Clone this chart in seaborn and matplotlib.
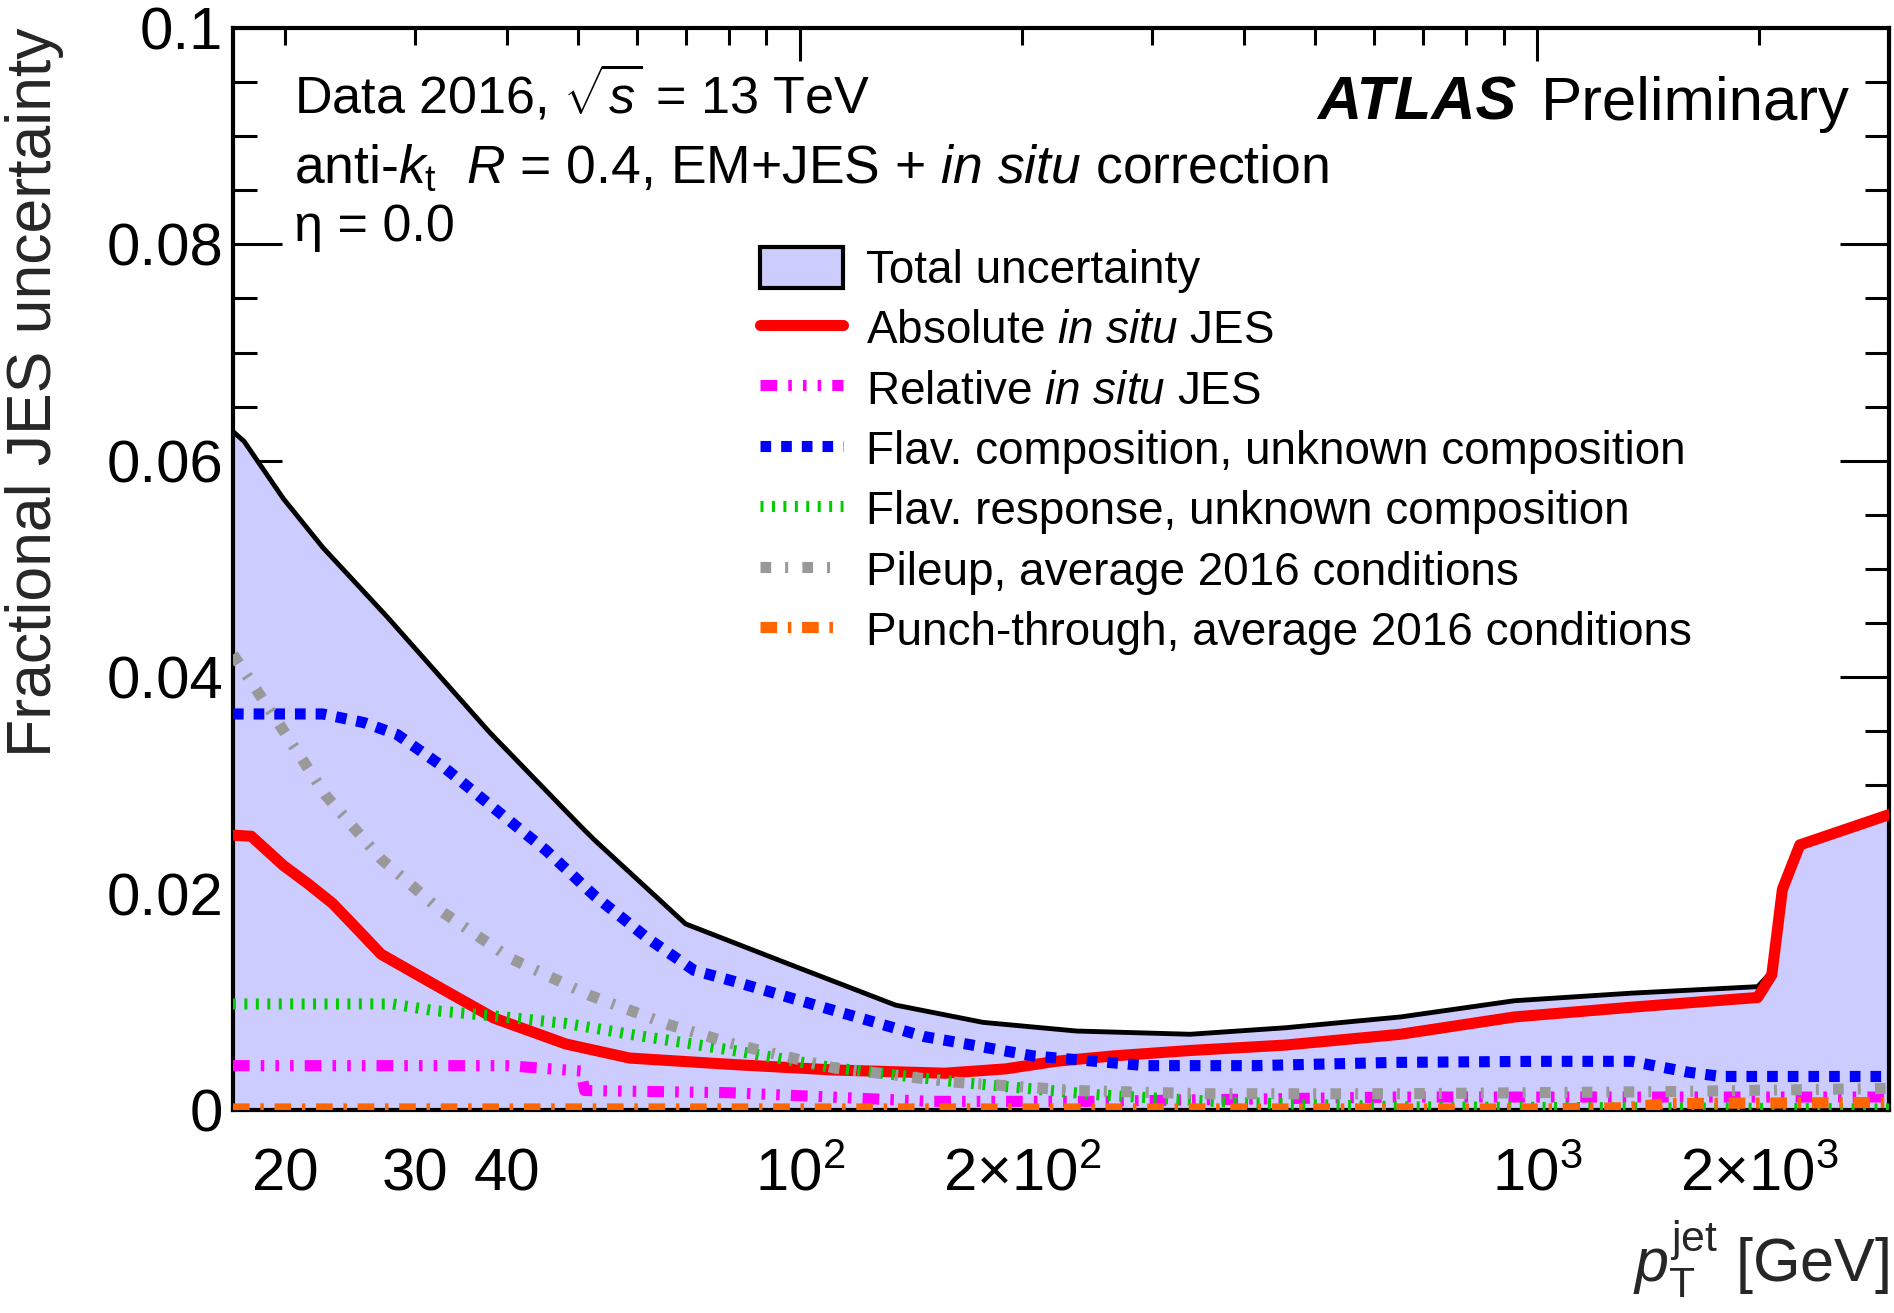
import matplotlib
matplotlib.use("Agg")
import matplotlib.pyplot as plt
from matplotlib.patches import Patch
import seaborn as sns

# values (eta = 0.0), pt in GeV
total_pt = [17, 17.6, 19.9, 22.5, 27.5, 37.9, 50.4, 52.5, 69.9, 95.6, 134.6, 177, 237, 338,
            455, 652, 931, 1342, 1990, 2080, 2150, 2270, 3000]
total_val = [0.0627, 0.0618, 0.0565, 0.0520, 0.0456, 0.0349, 0.0262, 0.0250, 0.0172, 0.0136,
             0.0097, 0.0081, 0.0073, 0.0070, 0.0076, 0.0086, 0.0101, 0.0108, 0.0114, 0.0128,
             0.0205, 0.0246, 0.0274]

abs_pt = [17, 18, 19.9, 21.5, 23.2, 25.0, 27.0, 31.7, 38.4, 48.1, 58.7, 81.2, 111, 157, 190,
          222, 266, 338, 455, 652, 931, 1342, 1990, 2080, 2150, 2270, 3000]
abs_val = [0.0254, 0.0253, 0.0226, 0.0209, 0.0191, 0.0168, 0.0144, 0.0117, 0.0085, 0.0061,
           0.0048, 0.0042, 0.0037, 0.0034, 0.0038, 0.0045, 0.0050, 0.0055, 0.0060, 0.0070,
           0.0086, 0.0095, 0.0104, 0.0125, 0.0204, 0.0245, 0.0273]

rel_pt = [17, 40, 48.1, 50.4, 51.0, 80, 110, 150, 250, 400, 640, 1500, 3000]
rel_val = [0.0041, 0.0041, 0.0037, 0.0036, 0.0018, 0.0016, 0.0012, 0.0008, 0.0008, 0.0010,
           0.0012, 0.0012, 0.0012]

flavcomp_pt = [17, 22.5, 25.6, 28.4, 33.1, 38.4, 45.2, 52.6, 62.0, 71.8, 81.2, 104.8, 147,
               207, 294, 414, 640, 1000, 1342, 1600, 1775, 3000]
flavcomp_val = [0.0366, 0.0366, 0.0358, 0.0347, 0.0315, 0.0279, 0.0240, 0.0198, 0.0159,
                0.0129, 0.0119, 0.0097, 0.0068, 0.0050, 0.0041, 0.0041, 0.0044, 0.0045,
                0.0045, 0.0035, 0.0031, 0.0031]

flavresp_pt = [17, 28, 31.7, 38.4, 48.1, 58.7, 81.2, 111, 168, 254, 386, 640, 3000]
flavresp_val = [0.0098, 0.0098, 0.0092, 0.0087, 0.0080, 0.0070, 0.0055, 0.0039, 0.0025,
                0.0014, 0.0007, 0.0003, 0.0001]

pileup_pt = [17, 19.8, 22.7, 27.0, 32.7, 40.5, 51.8, 66.2, 81.2, 111, 160, 237, 354, 640,
             1500, 3000]
pileup_val = [0.0421, 0.0353, 0.0291, 0.0232, 0.0183, 0.0140, 0.0106, 0.0079, 0.0061,
              0.0039, 0.0026, 0.0018, 0.0015, 0.0015, 0.0017, 0.0020]

punch_pt = [17, 1000, 1300, 1500, 3000]
punch_val = [0.0001, 0.0001, 0.0002, 0.0006, 0.0007]

labels = [
    "Total uncertainty",
    r"Absolute $\mathit{in\ situ}$ JES",
    r"Relative $\mathit{in\ situ}$ JES",
    "Flav. composition, unknown composition",
    "Flav. response, unknown composition",
    "Pileup, average 2016 conditions",
    "Punch-through, average 2016 conditions",
]

sns.set_theme(style="ticks")
plt.rcParams['font.family'] = ['Liberation Sans', 'DejaVu Sans']
plt.rcParams['mathtext.fontset'] = 'custom'
plt.rcParams['mathtext.rm'] = 'Liberation Sans'
plt.rcParams['mathtext.it'] = 'Liberation Sans:italic'
plt.rcParams['mathtext.bf'] = 'Liberation Sans:bold'
plt.rcParams['text.color'] = 'black'
plt.rcParams['axes.edgecolor'] = 'black'
plt.rcParams['xtick.color'] = 'black'
plt.rcParams['ytick.color'] = 'black'

fig = plt.figure(figsize=(18.94, 13.13), dpi=100)
ax = fig.add_axes([0.1230, 0.1546, 0.8744, 0.8241])
ax.set_xscale('log')

# total band
ax.fill_between(total_pt, 0, total_val, color='#ccccff', lw=0, zorder=1)
sns.lineplot(x=total_pt, y=total_val, ax=ax, color='black', lw=3.5,
             estimator=None, sort=False, legend=False, zorder=2)

# components, drawn in legend order
components = [
    (abs_pt, abs_val, '#ff0000', '-'),
    (rel_pt, rel_val, '#ff00ff', (0, (1.5, 1.0, 0.32, 1.0, 0.32, 1.0, 0.32, 1.0))),
    (flavcomp_pt, flavcomp_val, '#0000ff', (0, (0.96, 0.9))),
    (flavresp_pt, flavresp_val, '#00cc00', (0, (0.27, 0.76))),
    (pileup_pt, pileup_val, '#999999', (0, (0.96, 1.26, 0.27, 1.28))),
    (punch_pt, punch_val, '#ff6600', (0, (1.5, 0.96, 0.32, 0.96))),
]
handles = [Patch(facecolor='#ccccff', edgecolor='black', lw=3)]
for i, (px, py, col, ls) in enumerate(components):
    sns.lineplot(x=px, y=py, ax=ax, color=col, lw=8, linestyle=ls,
                 estimator=None, sort=False, legend=False, zorder=3 + i)
    handles.append(ax.lines[-1])

ax.set_xlim(17, 3000)
ax.set_ylim(0, 0.1)

ax.set_xticks([100, 1000], labels=[r'$10^{2}$', r'$10^{3}$'])
minor_x = [20, 30, 40, 50, 60, 70, 80, 90, 200, 300, 400, 500, 600, 700, 800, 900, 2000, 3000]
minor_lab = ['20', '30', '40', '', '', '', '', '', r'$2{\times}10^{2}$', '', '', '', '', '', '',
             '', r'$2{\times}10^{3}$', '']
ax.set_xticks(minor_x, labels=minor_lab, minor=True)
ax.set_yticks([0, 0.02, 0.04, 0.06, 0.08, 0.1], labels=['0', '0.02', '0.04', '0.06', '0.08', '0.1'])
ax.set_yticks([0.005 * k for k in range(21)], minor=True)

ax.tick_params(which='both', direction='in', top=True, right=True, width=2.2, labelsize=43)
ax.tick_params(axis='y', which='major', length=35, pad=7)
ax.tick_params(axis='y', which='minor', length=17.5)
ax.tick_params(axis='x', which='major', length=24, pad=58)
ax.tick_params(axis='x', which='minor', length=12, pad=58)
for t in ax.xaxis.get_major_ticks() + ax.xaxis.get_minor_ticks():
    t.label1.set_verticalalignment('baseline')
for s in ax.spines.values():
    s.set_linewidth(3)
    s.set_color('black')

ax.set_ylabel('Fractional JES uncertainty', fontsize=45, loc='top')
ax.yaxis.set_label_coords(-0.102, 1.0)
ax.set_xlabel(r'$p_{\mathrm{T}}^{\mathrm{jet}}$ [GeV]', fontsize=44, loc='right')
ax.xaxis.set_label_coords(1.0, -0.1)

ax.text(0.0368, 0.9214, r'Data 2016, $\sqrt{s}$ = 13 TeV', transform=ax.transAxes,
        fontsize=37.5, va='baseline')
ax.text(0.0368, 0.857, r'anti-$k_{\mathrm{t}}$  $R$ = 0.4, EM+JES + $\mathit{in\ situ}$ correction',
        transform=ax.transAxes, fontsize=38.5, va='baseline')
ax.text(0.0368, 0.8027, '\u03b7 = 0.0', transform=ax.transAxes, fontsize=37.5, va='baseline')
ax.text(0.6549, 0.915, 'ATLAS', transform=ax.transAxes, fontsize=44, va='baseline',
        fontweight='bold', fontstyle='italic')
ax.text(0.7896, 0.915, 'Preliminary', transform=ax.transAxes, fontsize=44.5, va='baseline')

ax.legend(handles, labels, loc='upper left', bbox_to_anchor=(0.318, 0.798), frameon=False,
          fontsize=33, borderpad=0, borderaxespad=0, handlelength=1.82, handleheight=1.0,
          handletextpad=0.5, labelspacing=0.31)

fig.savefig('out.png', dpi=100)
